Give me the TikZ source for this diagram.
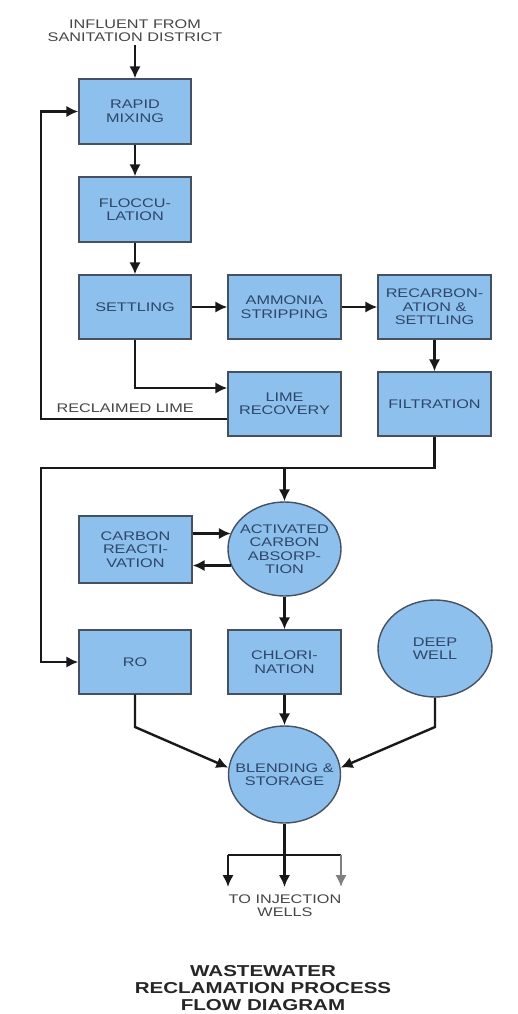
\documentclass[tikz,border=0pt]{standalone}
\usepackage{fontspec}
\newfontfamily\lab[FakeStretch=1.3]{Liberation Sans}
\usetikzlibrary{shapes.geometric,arrows.meta,calc}
\definecolor{boxfill}{RGB}{142,192,237}
\definecolor{boxline}{RGB}{70,80,95}
\definecolor{boxtext}{RGB}{45,70,105}
\definecolor{labtext}{RGB}{70,70,70}
\definecolor{linecol}{RGB}{25,25,25}
\begin{document}
\begin{tikzpicture}[x=1pt,y=-1pt,
  proc/.style={draw=boxline,line width=1.4pt,fill=boxfill,text=boxtext,align=center,inner sep=0pt,font=\lab\fontsize{12.5}{13.5}\selectfont},
  box/.style={proc,rectangle,minimum width=112pt,minimum height=65pt},
  oval/.style={proc,ellipse,minimum width=113pt,minimum height=95pt},
  ovaltext/.style={text=boxtext,align=center,inner sep=0pt,font=\lab\fontsize{12.5}{13.5}\selectfont},
  arr/.style={line width=2.4pt,draw=linecol,-{Latex[length=12pt,width=11.5pt]}},
  ln/.style={line width=2.4pt,draw=linecol},
  lbl/.style={text=labtext,align=center,font=\lab\fontsize{12.5}{13}\selectfont}]
\useasboundingbox (0,0) rectangle (517,1014);
\fill[white] (0,0) rectangle (517,1014);

% labels
\node[lbl] (infl) at (135,31) {INFLUENT FROM\\SANITATION DISTRICT};
\node[lbl,anchor=west] (reclaim) at (53,408) {RECLAIMED LIME};
\node[lbl] (inj) at (285,906) {TO INJECTION\\WELLS};
\node[text=black!85,align=center,font=\lab\bfseries\fontsize{15.8}{17}\selectfont] (title) at (263,988) {WASTEWATER\\RECLAMATION PROCESS\\FLOW DIAGRAM};

% process boxes
\node[box] (rapid) at (135,111.5) {RAPID\\MIXING};
\node[box] (floc) at (135,209.5) {FLOCCU-\\LATION};
\node[box,minimum height=64pt] (settle) at (135,307) {SETTLING};
\node[box,minimum width=113pt,minimum height=64pt] (ammonia) at (284.5,307) {AMMONIA\\STRIPPING};
\node[box,minimum width=113pt,minimum height=64pt] (recarb) at (434.5,307) {RECARBON-\\ATION \&\\SETTLING};
\node[box,minimum width=113pt,minimum height=64pt] (lime) at (284.5,404) {LIME\\RECOVERY};
\node[box,minimum width=113pt,minimum height=64pt] (filt) at (434.5,404) {FILTRATION};
\node[box,minimum width=113pt,minimum height=67pt] (react) at (135.5,549.5) {CARBON\\REACTI-\\VATION};
\node[oval,minimum height=94pt] (act) at (284.5,549) {};
\node[ovaltext] (acttext) at (act) {ACTIVATED\\CARBON\\ABSORP-\\TION};
\node[box,minimum height=64pt] (ro) at (135,662) {RO};
\node[box,minimum width=113pt,minimum height=64pt] (chlor) at (284.5,662) {CHLORI-\\NATION};
\node[oval,minimum width=114pt,minimum height=97pt] (deep) at (435,648.5) {};
\node[ovaltext] (deeptext) at (deep) {DEEP\\WELL};
\node[oval,minimum width=112pt,minimum height=97pt] (blend) at (284.5,774.5) {};
\node[ovaltext] (blendtext) at (blend) {BLENDING \&\\STORAGE};

% helper coordinates
\coordinate (lx) at (41,111.5);
\coordinate (lb) at (41,468);
\coordinate (j) at (284.5,468);
\coordinate (rb) at (135,727);
\coordinate (db) at (435,727);
\coordinate (bm) at (284.5,855);
\coordinate (bl) at (228,855);
\coordinate (br) at (341,855);
\coordinate (t1) at (228,887);
\coordinate (t2) at (284.5,887);
\coordinate (t3) at (341,887);

% connectors
\draw[arr] (infl.south) -- (rapid.north);
\draw[arr] (rapid) -- (floc);
\draw[arr] (floc) -- (settle);
\draw[arr] (settle) -- (ammonia);
\draw[arr] (ammonia) -- (recarb);
\draw[arr] (recarb) -- (filt);
\draw[arr] (settle.south) |- ([yshift=16pt]lime.west);
\draw[arr] ([yshift=-15pt]lime.west) -| (lx) -- (rapid.west);
\draw[arr] (filt.south) |- (lb) |- (ro.west);
\draw[arr] (j) -- (act.north);
\draw[arr] ([yshift=16pt]react.east) -- ([yshift=16pt,xshift=3.5pt]react.east -| act.west);
\draw[arr] ([yshift=-16pt,xshift=3.5pt]react.east -| act.west) -- ([yshift=-16pt]react.east);
\draw[arr] (act.south) -- (chlor.north);
\draw[arr] (chlor.south) -- (blend.north);
\draw[arr] (ro.south) -- (rb) -- (blend.173);
\draw[arr] (deep.south) -- (db) -- (blend.7);
\draw[ln] (blend.south) -- (bm);
\draw[ln] (bl) -- (br);
\draw[arr] (bl) -- (t1);
\draw[arr] (bm) -- (t2);
\draw[arr,draw=black!50] (br) -- (t3);
\end{tikzpicture}
\end{document}
